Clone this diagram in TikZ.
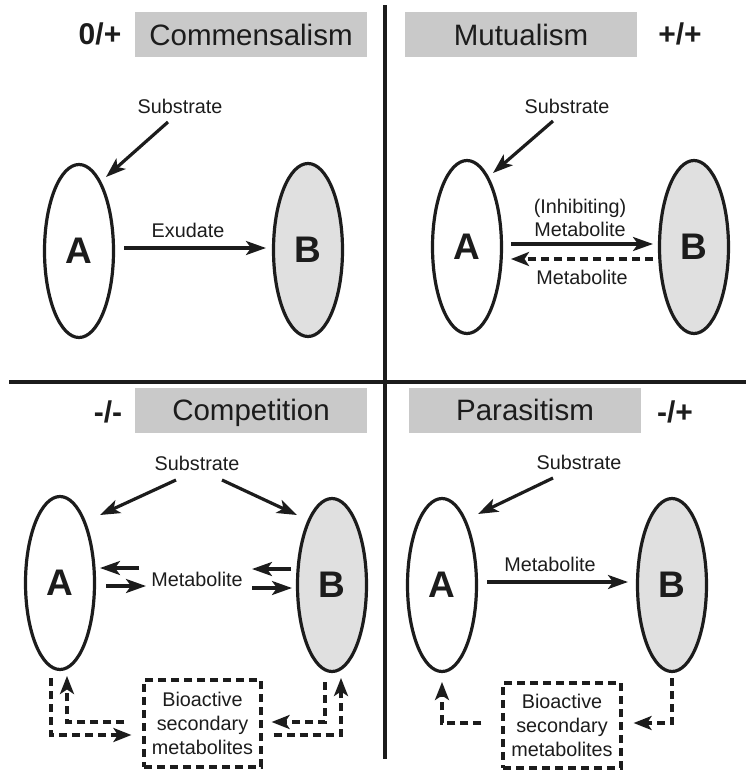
\documentclass[tikz,border=0pt]{standalone}
\usepackage{fontspec}
\setmainfont{Liberation Sans}
\usetikzlibrary{arrows.meta,shapes.geometric,calc}
\definecolor{ink}{HTML}{1C1C1C}
\definecolor{boxgray}{HTML}{C9C9C9}
\definecolor{cellgray}{HTML}{E0E0E0}
\tikzset{
  titlebox/.style={fill=boxgray,draw=none,minimum width=232pt,minimum height=45pt,inner sep=0pt,text height=21pt,text depth=0pt,text=ink,font=\fontsize{29.5}{32}\selectfont},
  signlbl/.style={text=ink,inner sep=0pt,font=\fontsize{30}{32}\bfseries\selectfont},
  lbl/.style={text=ink,inner sep=0pt,align=center,font=\fontsize{19.8}{23}\selectfont},
  cell/.style={ellipse,draw=ink,line width=3.2pt,minimum width=69pt,minimum height=173pt,inner sep=0pt,text=ink,font=\fontsize{37}{40}\bfseries\selectfont},
  cellA/.style={cell,fill=white},
  cellB/.style={cell,fill=cellgray},
  arr/.style={draw=ink,line width=3.2pt,-{Stealth[length=20pt,width=14pt,inset=5pt]}},
  darr/.style={draw=ink,line width=3.2pt,dash pattern=on 8pt off 5pt,-{Stealth[length=18pt,width=14pt,inset=4.5pt]}},
  dbox/.style={draw=ink,line width=3.2pt,dash pattern=on 8pt off 5pt,inner sep=0pt,align=center,text=ink,font=\fontsize{19.8}{24}\selectfont},
  divider/.style={draw=ink,line width=3.8pt},
}
\begin{document}
\begin{tikzpicture}[x=1pt,y=-1pt]
\useasboundingbox (0,0) rectangle (746,772);
% dividers
\coordinate (vtop) at (385,5);
\coordinate (vbot) at (385,759);
\coordinate (hl) at (9,382);
\coordinate (hr) at (746,382);
\draw[divider] (vtop) -- (vbot);
\draw[divider] (hl) -- (hr);

% ---------- Commensalism ----------
\node[titlebox] (t1) at (251,34.5) {Commensalism};
\node[signlbl] (s1) at (100,34) {0/+};
\node[lbl] (sub1) at (180,106) {Substrate};
\node[cellA] (A1) at (79,251) {A};
\node[cellB] (B1) at (308,250) {B};
\node[lbl] (ex1) at (188,230) {Exudate};
\draw[arr] ([shift={(-12,16)}]sub1.center) -- ([shift={(27,-74)}]A1.center);
\draw[arr] ([shift={(45,-3)}]A1.center) -- ([shift={(-42,-2)}]B1.center);

% ---------- Mutualism ----------
\node[titlebox] (t2) at (521,34.5) {Mutualism};
\node[signlbl] (s2) at (680,34) {+/+};
\node[lbl] (sub2) at (567,106) {Substrate};
\node[cellA] (A2) at (467,247) {A};
\node[cellB] (B2) at (694,247) {B};
\node[lbl] (m2a) at (580,218) {(Inhibiting)\\Metabolite};
\node[lbl] (m2b) at (582,277) {Metabolite};
\draw[arr] ([shift={(-14,15)}]sub2.center) -- ([shift={(26,-74)}]A2.center);
\draw[arr] ([shift={(44,-3)}]A2.center) -- ([shift={(-41,-3)}]B2.center);
\draw[darr] ([shift={(-41,12)}]B2.center) -- ([shift={(44,12)}]A2.center);

% ---------- Competition ----------
\node[titlebox] (t3) at (251,410) {Competition};
\node[signlbl] (s3) at (108,412) {-/-};
\node[lbl] (sub3) at (197,463) {Substrate};
\node[cellA] (A3) at (60,583) {A};
\node[cellB] (B3) at (332,585) {B};
\node[lbl] (m3) at (197,579) {Metabolite};
\draw[arr] ([shift={(-21,17)}]sub3.center) -- ([shift={(40,-68)}]A3.center);
\draw[arr] ([shift={(25,17)}]sub3.center) -- ([shift={(-35,-70)}]B3.center);
\draw[arr] ([shift={(79,-15)}]A3.center) -- ([shift={(40,-15)}]A3.center);
\draw[arr] ([shift={(46,3)}]A3.center) -- ([shift={(86,3)}]A3.center);
\draw[arr] ([shift={(-41,-16)}]B3.center) -- ([shift={(-80,-16)}]B3.center);
\draw[arr] ([shift={(-80,3)}]B3.center) -- ([shift={(-40,3)}]B3.center);
\node[dbox,minimum width=117pt,minimum height=87pt] (bx3) at (202.5,723.5) {Bioactive\\secondary\\metabolites};
\draw[darr] ([shift={(-9,95)}]A3.center) |- ([shift={(-11,11.5)}]bx3.west);
\draw[darr] ([shift={(-18,-1.5)}]bx3.west) -| ([shift={(7,93)}]A3.center);
\draw[darr] ([shift={(-7,97)}]B3.center) |- ([shift={(9,-1.5)}]bx3.east);
\draw[darr] ([shift={(11,11.5)}]bx3.east) -| ([shift={(9,93)}]B3.center);

% ---------- Parasitism ----------
\node[titlebox] (t4) at (525,410) {Parasitism};
\node[signlbl] (s4) at (675,412) {-/+};
\node[lbl] (sub4) at (579,462) {Substrate};
\node[cellA] (A4) at (442,585) {A};
\node[cellB] (B4) at (672,585) {B};
\node[lbl] (m4) at (550,564) {Metabolite};
\draw[arr] ([shift={(-26,16)}]sub4.center) -- ([shift={(36,-71)}]A4.center);
\draw[arr] ([shift={(45,-3)}]A4.center) -- ([shift={(-44,-3)}]B4.center);
\node[dbox,minimum width=118pt,minimum height=85pt] (bx4) at (562,725.5) {Bioactive\\secondary\\metabolites};
\draw[darr] ([shift={(-20,-2.5)}]bx4.west) -| ([shift={(0,97)}]A4.center);
\draw[darr] ([shift={(0,93)}]B4.center) |- ([shift={(11,-2.5)}]bx4.east);
\end{tikzpicture}
\end{document}
